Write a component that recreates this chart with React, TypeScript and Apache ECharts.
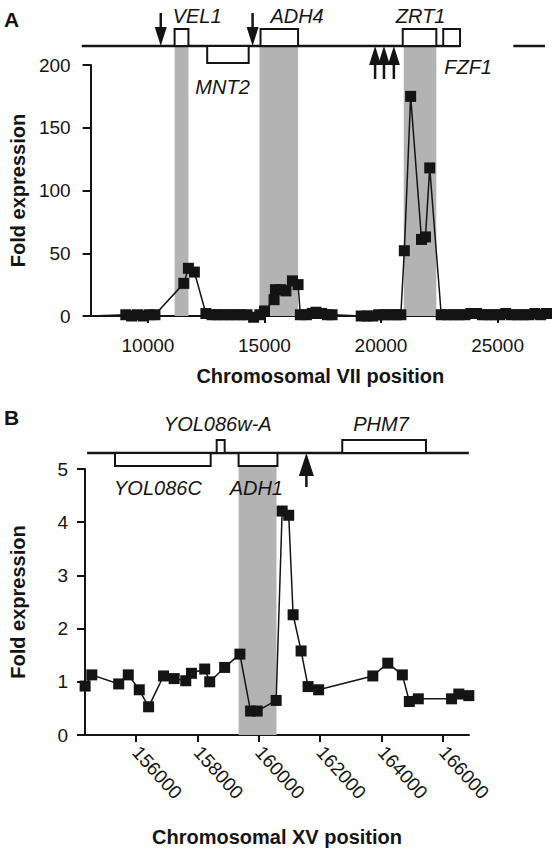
import React, { useEffect, useRef } from "react";
import * as echarts from "echarts";

// ---------------- Panel A : chromosome VII ----------------
const positionsA = [
  7560, 9050, 9300, 9550, 9800, 10050, 10300, 11540, 11737, 11992, 12487,
  12750, 13000, 13250, 13500, 13750, 14000, 14250, 14534, 14800, 15000,
  15411, 15470, 15700, 15919, 16200, 16441, 16540, 16800, 17050, 17213,
  17450, 17700, 17900, 19150, 19400, 19650, 19900, 20150, 20400, 20650,
  20850, 21000, 21271, 21737, 21907, 22090, 22584, 22850, 23100, 23350,
  23600, 23850, 24100, 24350, 24600, 24850, 25100, 25350, 25600, 25850,
  26100, 26350, 26600, 26850, 27100,
];
const foldA = [
  0, 1, 0, 1, 0, 1, 1, 26, 38, 35, 2,
  1, 1, 1, 1, 1, 1, 1, -1, 1, 4,
  13, 21, 21, 20, 28, 25, 1, 1, 2, 3,
  2, 1, 1, 0, 0, 0, 1, 1, 1, 1,
  1, 52, 175, 61, 63, 118, 1, 1, 1, 1,
  1, 2, 2, 1, 1, 1, 1, 2, 1, 1,
  1, 1, 2, 1, 2,
];
const hiddenMarkersA = [0];
const xTicksA = [10000, 15000, 20000, 25000];

const genesA: [number, number, number][] = [
  [11144, 11737, 1],
  [12542, 14322, -1],
  [14831, 16441, 1],
  [20932, 22373, 1],
  [22669, 23390, 1],
];
const geneNamesA = ["VEL1", "MNT2", "ADH4", "ZRT1", "FZF1"];
const geneLabelPosA: [number, number][] = [
  [11060, -1],
  [12034, 2],
  [15254, -1],
  [20636, -1],
  [22712, 1],
];
const chromLineA: [number, number][] = [
  [7160, 23390],
  [25678, 27034],
];
const shadedA: [number, number][] = [
  [11144, 11737],
  [14788, 16441],
  [20975, 22373],
];
const arrowsA: [number, number][] = [
  [10550, -1],
  [14490, -1],
  [19746, 1],
  [20127, 1],
  [20551, 1],
];

// ---------------- Panel B : chromosome XV ----------------
const positionsB = [
  154344, 154562, 155438, 155750, 156108, 156412, 156899, 157244, 157623,
  157808, 158240, 158403, 158890, 159386, 159734, 159951, 160568, 160763,
  160977, 161120, 161380, 161607, 161951, 163717, 164204, 164679, 164906,
  165198, 166282, 166519, 166844,
];
const foldB = [
  0.92, 1.13, 0.96, 1.13, 0.85, 0.53, 1.11, 1.06, 1.02,
  1.16, 1.24, 1.0, 1.27, 1.52, 0.45, 0.45, 0.65, 4.21,
  4.13, 2.26, 1.58, 0.91, 0.85, 1.11, 1.35, 1.13, 0.63,
  0.68, 0.68, 0.77, 0.74,
];
const xTicksB = [156000, 158000, 160000, 162000, 164000, 166000];

const genesB: [number, number, number][] = [
  [155318, 158435, -1],
  [158630, 158890, 1],
  [159344, 160610, -1],
  [162721, 165448, 1],
];
const geneNamesB = ["YOL086C", "YOL086w-A", "ADH1", "PHM7"];
const geneLabelPosB: [number, number][] = [
  [155286, 1],
  [156909, -1],
  [159052, 1],
  [163078, -1],
];
const chromLineB: [number, number][] = [[154409, 166844]];
const shadedB: [number, number][] = [[159344, 160578]];
const arrowsB: [number, number][] = [[161552, 1]];

// ---------------- styling ----------------
const FONT = '"Liberation Sans", Arial, Helvetica, sans-serif';
const INK = "#141414";
const GRAY = "#b3b3b3";

type MapStyle = {
  lineOffset: number;
  boxH: number;
  rows: Record<string, number>;
  headH: number;
  headW: number;
  tail: number;
};

const mapStyleA: MapStyle = {
  lineOffset: 19,
  boxH: 17,
  rows: { "-1": -30, "1": 21, "2": 41 },
  headH: 19,
  headW: 12,
  tail: 33,
};
const mapStyleB: MapStyle = {
  lineOffset: 16,
  boxH: 13,
  rows: { "-1": -29, "1": 35 },
  headH: 23,
  headW: 15,
  tail: 34,
};

function mapSeries(
  idx: number,
  st: MapStyle,
  genes: [number, number, number][],
  names: string[],
  labelPos: [number, number][],
  chrom: [number, number][],
  shaded: [number, number][],
  arrows: [number, number][]
): any[] {
  const lineY = (p: any) => p.coordSys.y - st.lineOffset;
  const common = { xAxisIndex: idx, yAxisIndex: idx, silent: true, clip: false };
  return [
    {
      ...common,
      type: "custom",
      z: 1,
      data: shaded,
      renderItem: (p: any, api: any) => {
        const x0 = api.coord([api.value(0), 0])[0];
        const x1 = api.coord([api.value(1), 0])[0];
        const y0 = lineY(p);
        const y1 = p.coordSys.y + p.coordSys.height;
        return {
          type: "rect",
          shape: { x: x0, y: y0, width: x1 - x0, height: y1 - y0 },
          style: { fill: GRAY },
        };
      },
    },
    {
      ...common,
      type: "custom",
      z: 4,
      data: chrom,
      renderItem: (p: any, api: any) => {
        const x0 = api.coord([api.value(0), 0])[0];
        const x1 = api.coord([api.value(1), 0])[0];
        const y = lineY(p);
        return {
          type: "line",
          shape: { x1: x0, y1: y, x2: x1, y2: y },
          style: { stroke: INK, lineWidth: 2.5 },
        };
      },
    },
    {
      ...common,
      type: "custom",
      z: 5,
      data: genes,
      renderItem: (p: any, api: any) => {
        const x0 = api.coord([api.value(0), 0])[0];
        const x1 = api.coord([api.value(1), 0])[0];
        const s = api.value(2);
        const ly = lineY(p);
        const y = s > 0 ? ly - st.boxH : ly;
        return {
          type: "rect",
          shape: { x: x0, y, width: x1 - x0, height: st.boxH },
          style: { fill: "#fff", stroke: INK, lineWidth: 2 },
        };
      },
    },
    {
      ...common,
      type: "custom",
      z: 5,
      data: arrows,
      renderItem: (p: any, api: any) => {
        const x = api.coord([api.value(0), 0])[0];
        const dir = api.value(1);
        const ly = lineY(p);
        const baseY = ly + dir * st.headH;
        const tailY = ly + dir * st.tail;
        return {
          type: "group",
          children: [
            {
              type: "line",
              shape: { x1: x, y1: baseY, x2: x, y2: tailY },
              style: { stroke: INK, lineWidth: 2.5 },
            },
            {
              type: "polygon",
              shape: {
                points: [
                  [x, ly],
                  [x - st.headW / 2, baseY],
                  [x + st.headW / 2, baseY],
                ],
              },
              style: { fill: INK },
            },
          ],
        };
      },
    },
    {
      ...common,
      type: "custom",
      z: 6,
      data: labelPos,
      renderItem: (p: any, api: any) => {
        const x = api.coord([api.value(0), 0])[0];
        const row = String(api.value(1));
        return {
          type: "text",
          style: {
            text: names[p.dataIndex],
            x,
            y: lineY(p) + st.rows[row],
            fill: INK,
            fontStyle: "italic",
            fontSize: 20,
            fontFamily: FONT,
            align: "left",
            verticalAlign: "middle",
          },
        };
      },
    },
  ];
}

const axisText = { color: INK, fontSize: 19, fontFamily: FONT };
const titleText = { color: INK, fontSize: 20, fontFamily: FONT, fontWeight: "bold" as const };
const axisLine = { show: true, lineStyle: { color: INK, width: 2 } };

const option: any = {
  animation: false,
  backgroundColor: "#fff",
  grid: [
    { left: 85, top: 65, width: 465, height: 251 },
    { left: 84, top: 469, width: 385, height: 266 },
  ],
  xAxis: [
    {
      gridIndex: 0,
      type: "value",
      min: 7540,
      max: 27250,
      axisLine,
      splitLine: { show: false },
      axisTick: { show: true, length: 7, customValues: xTicksA, lineStyle: { color: INK, width: 2 } },
      axisLabel: { ...axisText, margin: 20, customValues: xTicksA, formatter: (v: number) => String(v) },
      name: "Chromosomal VII position",
      nameLocation: "middle",
      nameGap: 50,
      nameTextStyle: titleText,
    },
    {
      gridIndex: 1,
      type: "value",
      min: 154340,
      max: 166850,
      axisLine,
      splitLine: { show: false },
      axisTick: { show: true, length: 7, customValues: xTicksB, lineStyle: { color: INK, width: 2 } },
      axisLabel: { ...axisText, margin: 14, rotate: -48, customValues: xTicksB, formatter: (v: number) => String(v) },
      name: "Chromosomal XV position",
      nameLocation: "middle",
      nameGap: 92,
      nameTextStyle: titleText,
    },
  ],
  yAxis: [
    {
      gridIndex: 0,
      type: "value",
      min: 0,
      max: 200,
      interval: 50,
      axisLine,
      splitLine: { show: false },
      axisTick: { show: true, length: 8, lineStyle: { color: INK, width: 2 } },
      axisLabel: { ...axisText, margin: 20 },
      name: "Fold expression",
      nameLocation: "middle",
      nameRotate: 90,
      nameGap: 58,
      nameTextStyle: titleText,
    },
    {
      gridIndex: 1,
      type: "value",
      min: 0,
      max: 5,
      interval: 1,
      axisLine,
      splitLine: { show: false },
      axisTick: { show: true, length: 8, lineStyle: { color: INK, width: 2 } },
      axisLabel: { ...axisText, margin: 17 },
      name: "Fold expression",
      nameLocation: "middle",
      nameRotate: 90,
      nameGap: 57,
      nameTextStyle: titleText,
    },
  ],
  graphic: [
    {
      type: "text",
      left: 4,
      top: 9,
      style: { text: "A", fill: INK, fontSize: 21, fontWeight: "bold", fontFamily: FONT },
    },
    {
      type: "text",
      left: 4,
      top: 407,
      style: { text: "B", fill: INK, fontSize: 21, fontWeight: "bold", fontFamily: FONT },
    },
  ],
  series: [
    ...mapSeries(0, mapStyleA, genesA, geneNamesA, geneLabelPosA, chromLineA, shadedA, arrowsA),
    ...mapSeries(1, mapStyleB, genesB, geneNamesB, geneLabelPosB, chromLineB, shadedB, arrowsB),
    {
      type: "line",
      xAxisIndex: 0,
      yAxisIndex: 0,
      z: 3,
      clip: false,
      symbol: "rect",
      symbolSize: 11,
      itemStyle: { color: INK },
      lineStyle: { color: INK, width: 1.5 },
      data: positionsA.map((x, i) =>
        hiddenMarkersA.includes(i) ? { value: [x, foldA[i]], symbol: "none" } : [x, foldA[i]]
      ),
    },
    {
      type: "line",
      xAxisIndex: 1,
      yAxisIndex: 1,
      z: 3,
      clip: false,
      symbol: "rect",
      symbolSize: 11,
      itemStyle: { color: INK },
      lineStyle: { color: INK, width: 1.5 },
      data: positionsB.map((x, i) => [x, foldB[i]]),
    },
  ],
};

export default function App() {
  const ref = useRef<HTMLDivElement>(null);
  useEffect(() => {
    document.body.style.margin = "0";
    const chart = echarts.init(ref.current!, null, { renderer: "svg" });
    chart.setOption(option);
    return () => chart.dispose();
  }, []);
  return <div ref={ref} style={{ width: 552, height: 851 }} />;
}
